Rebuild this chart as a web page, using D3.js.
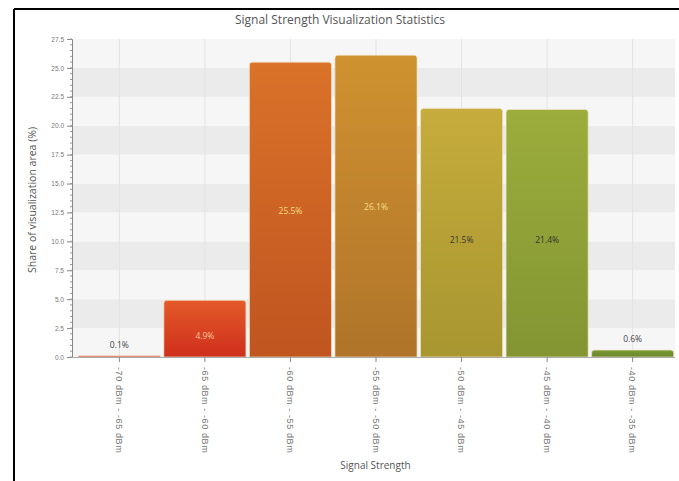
<!DOCTYPE html>
<html>
<head>
<meta charset="utf-8">
<script src="https://cdn.jsdelivr.net/npm/d3@7"></script>
<style>
  body { margin: 0; background: #fff; }
  svg { display: block; font-family: "Open Sans", "DejaVu Sans", sans-serif; }
</style>
</head>
<body>
<svg id="chart"></svg>
<script>
// ---- DATA ----
const categories = [
  "-70 dBm - -65 dBm",
  "-65 dBm - -60 dBm",
  "-60 dBm - -55 dBm",
  "-55 dBm - -50 dBm",
  "-50 dBm - -45 dBm",
  "-45 dBm - -40 dBm",
  "-40 dBm - -35 dBm"
];
const shares = [0.1, 4.9, 25.5, 26.1, 21.5, 21.4, 0.6];
const yTicks = [0, 2.5, 5, 7.5, 10, 12.5, 15, 17.5, 20, 22.5, 25, 27.5];
const barTop = ["#e04a26", "#e45a2a", "#da7229", "#cf9230", "#c6ac3c", "#9cad3c", "#7c9a33"];
const barBottom = ["#cc2f1c", "#cf2f1c", "#c05520", "#b0742a", "#a89630", "#829532", "#6a862c"];
const labelColors = ["#444", "#f7c49a", "#f6dc84", "#f6df86", "#333", "#333", "#444"];

const width = 679, height = 481;
const svg = d3.select("#chart").attr("width", width).attr("height", height);

const plot = { left: 72, right: 675, top: 39, bottom: 357 };

const x = d3.scaleBand()
  .domain(categories)
  .range([plot.left + 5, plot.right])
  .paddingInner(0.04)
  .paddingOuter(0.015);

const y = d3.scaleLinear()
  .domain([0, 27.5])
  .range([plot.bottom, plot.top]);

// window frame
svg.append("line").attr("x1", 14).attr("x2", 14).attr("y1", 9).attr("y2", height)
  .attr("stroke", "#000").attr("stroke-width", 2);
svg.append("line").attr("x1", 14).attr("x2", width).attr("y1", 9).attr("y2", 9)
  .attr("stroke", "#000").attr("stroke-width", 2);

// ---- BACKGROUND BANDS ----
const bands = svg.append("g");
for (let i = 0; i < yTicks.length - 1; i++) {
  bands.append("rect")
    .attr("x", plot.left + 1)
    .attr("width", plot.right - plot.left - 1)
    .attr("y", y(yTicks[i + 1]))
    .attr("height", y(yTicks[i]) - y(yTicks[i + 1]))
    .attr("fill", i % 2 === 1 ? "#ebebeb" : "#f6f6f6");
}

// vertical grid
svg.append("g").selectAll("line").data(categories).join("line")
  .attr("x1", d => x(d) + x.bandwidth() / 2)
  .attr("x2", d => x(d) + x.bandwidth() / 2)
  .attr("y1", plot.top).attr("y2", plot.bottom)
  .attr("stroke", "#e2e2e2");

// ---- GRADIENTS ----
const defs = svg.append("defs");
categories.forEach((c, i) => {
  const g = defs.append("linearGradient")
    .attr("id", "grad" + i)
    .attr("x1", 0).attr("x2", 0).attr("y1", 0).attr("y2", 1);
  g.append("stop").attr("offset", "0%").attr("stop-color", barTop[i]);
  g.append("stop").attr("offset", "100%").attr("stop-color", barBottom[i]);
});

// ---- BARS ----
const bars = svg.append("g");
shares.forEach((v, i) => {
  const bx = x(categories[i]), bw = x.bandwidth();
  const top = y(v), bot = y(0);
  const r = Math.min(3, (bot - top) / 2);
  bars.append("path")
    .attr("d", `M${bx},${bot} V${top + r} Q${bx},${top} ${bx + r},${top} H${bx + bw - r} Q${bx + bw},${top} ${bx + bw},${top + r} V${bot} Z`)
    .attr("fill", `url(#grad${i})`)
    .attr("stroke", "#f3e6c8")
    .attr("stroke-opacity", 0.7)
    .attr("stroke-width", 1);
});

// value labels
svg.append("g").selectAll("text").data(shares).join("text")
  .attr("x", (d, i) => x(categories[i]) + x.bandwidth() / 2)
  .attr("y", d => d < 3 ? y(d) - 8 : (y(d) + y(0)) / 2 + (d > 21.9 ? 4 : 10))
  .attr("text-anchor", "middle")
  .attr("font-size", 8.5)
  .attr("fill", (d, i) => labelColors[i])
  .text(d => d.toFixed(1) + "%");

// ---- AXES ----
const yAxis = svg.append("g")
  .attr("transform", `translate(${plot.left},0)`)
  .call(d3.axisLeft(y).tickValues(yTicks).tickFormat(d3.format(".1f")).tickSize(5).tickPadding(3));
yAxis.select(".domain").attr("stroke", "#888");
yAxis.selectAll(".tick line").attr("stroke", "#888");
yAxis.selectAll("text").attr("font-size", 6.5).attr("fill", "#777");

// minor ticks
svg.append("g").selectAll("line").data(d3.range(0, 27.51, 0.5)).join("line")
  .attr("x1", plot.left - 2).attr("x2", plot.left)
  .attr("y1", d => y(d)).attr("y2", d => y(d))
  .attr("stroke", "#999");

const xAxis = svg.append("g")
  .attr("transform", `translate(0,${plot.bottom})`)
  .call(d3.axisBottom(x).tickSize(5).tickSizeOuter(0));
xAxis.select(".domain").attr("stroke", "#aaa").attr("d", `M${plot.left},0.5H${plot.right}`);
xAxis.selectAll(".tick line").attr("stroke", "#888");
xAxis.selectAll("text")
  .attr("font-size", 9)
  .attr("letter-spacing", 0.6)
  .attr("fill", "#777")
  .attr("text-anchor", "start")
  .attr("transform", "rotate(90)")
  .attr("x", 10)
  .attr("y", 0)
  .attr("dy", "0.35em");

// ---- TITLES ----
svg.append("text")
  .attr("x", 340).attr("y", 24)
  .attr("text-anchor", "middle")
  .attr("font-size", 12)
  .attr("fill", "#555")
  .text("Signal Strength Visualization Statistics");

svg.append("text")
  .attr("x", (plot.left + plot.right) / 2 + 2).attr("y", 469)
  .attr("text-anchor", "middle")
  .attr("font-size", 10)
  .attr("fill", "#555")
  .text("Signal Strength");

svg.append("text")
  .attr("transform", `translate(36,${(plot.top + plot.bottom) / 2 + 2}) rotate(-90)`)
  .attr("text-anchor", "middle")
  .attr("font-size", 10.5)
  .attr("fill", "#555")
  .text("Share of visualization area (%)");
</script>
</body>
</html>
